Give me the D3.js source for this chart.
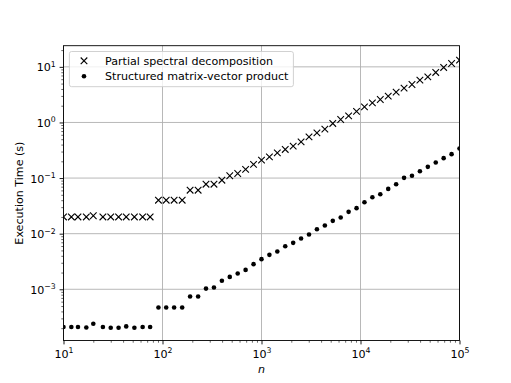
<!DOCTYPE html>
<html>
<head>
<meta charset="utf-8">
<script src="https://cdn.jsdelivr.net/npm/d3@7"></script>
<style>
body { margin: 0; background: #fff; }
svg { font-family: "DejaVu Sans", sans-serif; }
</style>
</head>
<body>
<svg id="chart" width="511" height="383"></svg>
<script>
/* data */
const nValues = [10, 12, 14, 17, 20, 25, 30, 36, 43, 52, 63, 75, 91, 109, 131, 158, 190, 229, 275, 331,
    398, 478, 575, 691, 831, 1000, 1202, 1445, 1737, 2089, 2511, 3019, 3630, 4365, 5248, 6309, 7585,
    9120, 10964, 13182, 15848, 19054, 22908, 27542, 33113, 39810, 47863, 57543, 69183, 83176, 100000]

const spectralTimes = [0.020, 0.020, 0.020, 0.020, 0.021, 0.020, 0.020, 0.020, 0.020, 0.020, 0.020, 0.020,
    0.040, 0.040, 0.040, 0.040,
    0.0605, 0.0605, 0.0776, 0.0776, 0.0916, 0.110, 0.121, 0.143, 0.176, 0.210, 0.240, 0.284, 0.327,
    0.375, 0.448, 0.551, 0.650, 0.757,
    0.96, 1.13, 1.31, 1.58, 1.91, 2.25, 2.59, 2.97, 3.51, 4.14, 4.82, 5.76, 6.61, 7.93, 9.75, 11.5, 13.2]

const productTimes = [2.1e-4, 2.1e-4, 2.1e-4, 2.05e-4, 2.4e-4, 2.1e-4, 2.03e-4, 2.03e-4, 2.15e-4, 2.03e-4, 2.1e-4, 2.1e-4,
    4.7e-4, 4.7e-4, 4.7e-4, 4.7e-4,
    7.4e-4, 7.4e-4,
    1.03e-3, 1.08e-3, 1.42e-3, 1.67e-3, 1.92e-3, 2.23e-3, 2.83e-3, 3.48e-3, 4.16e-3, 4.79e-3, 5.96e-3,
    6.84e-3, 8.2e-3, 9.68e-3, 1.2e-2, 1.4e-2,
    1.70e-2, 1.95e-2, 2.47e-2, 2.88e-2, 3.68e-2, 4.53e-2, 5.13e-2, 6.39e-2, 7.76e-2, 0.101, 0.110,
    0.133, 0.159, 0.191, 0.228, 0.269, 0.340]

const seriesNames = ["Partial spectral decomposition", "Structured matrix-vector product"]
const xTickExponents = [1, 2, 3, 4, 5]
const yTickExponents = [-3, -2, -1, 0, 1]
const xDomain = [10, 1e5]
const yDomain = [1.2e-4, 24]

/* layout */
const mLeft = 63.5, mRight = 459.5, mTop = 45.7, mBottom = 340.5
const fontSize = 11.1

const x = d3.scaleLog().domain(xDomain).range([mLeft, mRight])
const y = d3.scaleLog().domain(yDomain).range([mBottom, mTop])

const svg = d3.select("#chart")

svg.append("defs").append("clipPath").attr("id", "plot")
    .append("rect")
    .attr("x", mLeft).attr("y", mTop)
    .attr("width", mRight - mLeft).attr("height", mBottom - mTop)

const majorX = xTickExponents.map(e => Math.pow(10, e))
const majorY = yTickExponents.map(e => Math.pow(10, e))

const minorOf = (scale) => {
    const [a, b] = scale.domain()
    const out = []
    for (let e = Math.floor(Math.log10(a)); e <= Math.ceil(Math.log10(b)); e++) {
        for (let m = 2; m < 10; m++) {
            const v = m * Math.pow(10, e)
            if (v >= a && v <= b) out.push(v)
        }
    }
    return out
}

// grid
svg.append("g")
    .selectAll("line")
    .data(majorX)
    .enter()
    .append("line")
    .attr("x1", d => x(d)).attr("x2", d => x(d))
    .attr("y1", mTop).attr("y2", mBottom)
    .attr("stroke", "#b0b0b0").attr("stroke-width", 0.9)

svg.append("g")
    .selectAll("line")
    .data(majorY)
    .enter()
    .append("line")
    .attr("x1", mLeft).attr("x2", mRight)
    .attr("y1", d => y(d)).attr("y2", d => y(d))
    .attr("stroke", "#b0b0b0").attr("stroke-width", 0.9)

// minor ticks
svg.append("g")
    .attr("transform", "translate(0," + mBottom + ")")
    .call(d3.axisBottom(x).tickValues(minorOf(x)).tickSize(2.2).tickFormat(""))
    .call(g => g.select(".domain").remove())
    .call(g => g.selectAll("line").attr("stroke-width", 0.6))

svg.append("g")
    .attr("transform", "translate(" + mLeft + ",0)")
    .call(d3.axisLeft(y).tickValues(minorOf(y)).tickSize(2.2).tickFormat(""))
    .call(g => g.select(".domain").remove())
    .call(g => g.selectAll("line").attr("stroke-width", 0.6))

// major ticks with 10^e labels
const powerLabel = (sel, exps) => {
    sel.selectAll(".tick text").each(function (d, i) {
        const t = d3.select(this).text("")
        t.append("tspan").text("10")
        const e = exps[i]
        t.append("tspan")
            .attr("font-size", fontSize * 0.7)
            .attr("dy", -fontSize * 0.42)
            .text(e < 0 ? "\u2212" + Math.abs(e) : e)
    })
}

svg.append("g")
    .attr("transform", "translate(0," + mBottom + ")")
    .call(d3.axisBottom(x).tickValues(majorX).tickSize(3.9).tickPadding(3.9))
    .call(g => g.select(".domain").remove())
    .call(g => g.selectAll("line").attr("stroke-width", 0.9))
    .call(g => g.selectAll("text").attr("font-size", fontSize).attr("fill", "#000")
        .attr("font-family", "DejaVu Sans").attr("dy", "0.85em"))
    .call(g => powerLabel(g, xTickExponents))

svg.append("g")
    .attr("transform", "translate(" + mLeft + ",0)")
    .call(d3.axisLeft(y).tickValues(majorY).tickSize(3.9).tickPadding(3.9))
    .call(g => g.select(".domain").remove())
    .call(g => g.selectAll("line").attr("stroke-width", 0.9))
    .call(g => g.selectAll("text").attr("font-size", fontSize).attr("fill", "#000")
        .attr("font-family", "DejaVu Sans").attr("dy", "0.36em"))
    .call(g => powerLabel(g, yTickExponents))

// marks
const plot = svg.append("g").attr("clip-path", "url(#plot)")
const s = 3.3

plot.append("g")
    .selectAll("path")
    .data(nValues.map((n, i) => [n, spectralTimes[i]]))
    .enter()
    .append("path")
    .attr("d", d => {
        const cx = x(d[0]), cy = y(d[1])
        return "M" + (cx - s) + "," + (cy - s) + "L" + (cx + s) + "," + (cy + s) +
            "M" + (cx - s) + "," + (cy + s) + "L" + (cx + s) + "," + (cy - s)
    })
    .attr("stroke", "#000").attr("stroke-width", 1.1).attr("fill", "none")

plot.append("g")
    .selectAll("circle")
    .data(nValues.map((n, i) => [n, productTimes[i]]))
    .enter()
    .append("circle")
    .attr("cx", d => x(d[0]))
    .attr("cy", d => y(d[1]))
    .attr("r", 2.3)
    .attr("fill", "#000")

// frame
svg.append("rect")
    .attr("x", mLeft).attr("y", mTop)
    .attr("width", mRight - mLeft).attr("height", mBottom - mTop)
    .attr("fill", "none").attr("stroke", "#000").attr("stroke-width", 0.9)

// axis titles
svg.append("text")
    .attr("x", (mLeft + mRight) / 2).attr("y", 373)
    .attr("text-anchor", "middle")
    .attr("font-size", fontSize).attr("font-style", "italic")
    .text("n")

svg.append("text")
    .attr("transform", "translate(23," + (mTop + mBottom) / 2 + ") rotate(-90)")
    .attr("text-anchor", "middle")
    .attr("font-size", fontSize)
    .text("Execution Time (s)")

// legend
const legend = svg.append("g")
legend.append("rect")
    .attr("x", 69.4).attr("y", 51.5)
    .attr("width", 224).attr("height", 35.2)
    .attr("rx", 2.2)
    .attr("fill", "#fff").attr("fill-opacity", 0.8)
    .attr("stroke", "#cccccc").attr("stroke-width", 0.9)

const rows = legend.selectAll("g.row")
    .data(seriesNames)
    .enter()
    .append("g")
    .attr("class", "row")
    .attr("transform", (d, i) => "translate(84," + (60.8 + i * 15.4) + ")")

rows.filter((d, i) => i === 0).append("path")
    .attr("d", "M" + -s + "," + -s + "L" + s + "," + s + "M" + -s + "," + s + "L" + s + "," + -s)
    .attr("stroke", "#000").attr("stroke-width", 1.1)

rows.filter((d, i) => i === 1).append("circle")
    .attr("r", 2.3).attr("fill", "#000")

rows.append("text")
    .attr("x", 21)
    .attr("dy", "0.36em")
    .attr("font-size", fontSize)
    .text(d => d)
</script>
</body>
</html>
